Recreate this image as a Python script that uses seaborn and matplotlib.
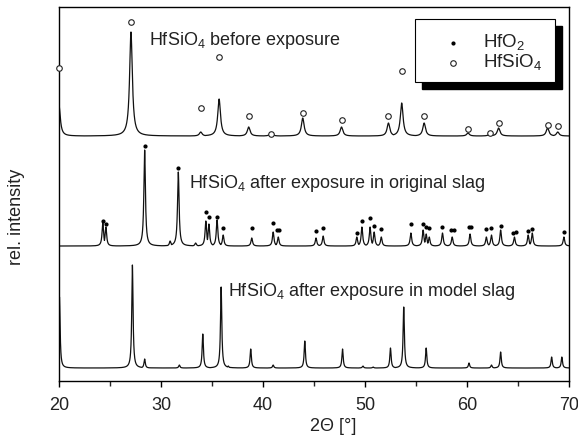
import numpy as np
import matplotlib
matplotlib.use("Agg")
import matplotlib.pyplot as plt
from matplotlib.patches import Rectangle
from matplotlib.ticker import MultipleLocator
import seaborn as sns

# peak positions (2theta, deg) and apex levels (arbitrary units)
before_base = 245
before_pos = [20.0, 27.06, 33.9, 35.7, 38.6, 40.8, 43.9, 47.7, 52.3, 53.6, 55.8, 60.1, 62.3, 63.1, 67.9, 68.9]
before_top = [276, 349, 249, 282, 254, 248, 263, 254, 258, 278, 258, 248, 248, 253, 253, 249]
before_mark = [313, 359, 273, 324, 265, 247, 268, 261, 265, 310, 265, 252, 248, 258, 256, 255]

orig_base = 135
orig_pos = [24.3, 24.6, 28.4, 30.9, 31.7, 33.4, 34.4, 34.7, 35.5, 36.1,
            38.9, 41.0, 41.5, 45.2, 45.9, 49.2, 49.7, 50.5, 50.9, 51.6,
            54.5, 55.7, 56.0, 56.3, 57.6, 58.55, 60.3, 61.9, 62.4, 63.3,
            64.65, 66.0, 66.4, 69.5]
orig_top = [158, 154, 231, 140, 209, 138, 160, 157, 161, 146,
            143, 149, 144, 143, 145, 144, 154, 154, 149, 144,
            148, 151, 147, 144, 148, 144, 147, 144, 146, 151,
            144, 146, 148, 144]
orig_mark_pos = [24.3, 24.6, 28.4, 31.7, 34.4, 34.7, 35.5, 36.1, 38.9, 41.0,
                 41.4, 41.6, 45.2, 45.9, 49.2, 49.7, 50.5, 50.9, 51.6, 54.5,
                 55.7, 56.0, 56.3, 57.6, 58.4, 58.7, 60.2, 60.4, 61.9, 62.4,
                 63.3, 64.5, 64.8, 66.0, 66.4, 69.5]
orig_mark = [160, 157, 235, 213, 169, 164, 164, 153, 153, 158,
             151, 151, 150, 153, 148, 160, 163, 155, 152, 157,
             157, 154, 153, 154, 151, 151, 154, 154, 152, 153,
             155, 148, 149, 150, 152, 149]

model_base = 13
model_pos = [20.05, 27.2, 28.4, 31.8, 34.1, 35.9, 36.6, 38.8, 41.0, 44.1, 47.8,
             49.8, 50.8, 52.5, 53.8, 56.0, 60.2, 62.4, 63.3, 68.3, 69.3]
model_top = [84, 116, 22, 16, 47, 94, 15, 32, 16, 40, 32,
             15, 14, 33, 74, 33, 18, 16, 29, 24, 24]

labels = ["HfSiO$_4$ before exposure",
          "HfSiO$_4$ after exposure in original slag",
          "HfSiO$_4$ after exposure in model slag"]

sns.set_style("ticks")
plt.rcParams["font.family"] = ["Liberation Sans", "DejaVu Sans"]
plt.rcParams["mathtext.fontset"] = "custom"
plt.rcParams["mathtext.rm"] = "Liberation Sans"
plt.rcParams["mathtext.default"] = "regular"

grid = np.linspace(20, 70, 5001)


def pattern(pos, top, base, width):
    y = np.full_like(grid, float(base))
    for p, t in zip(pos, top):
        y = np.maximum(y, base + (t - base) / (1 + ((grid - p) / width) ** 2))
    return y


fig = plt.figure(figsize=(5.78, 4.46), dpi=100)
ax = fig.add_axes([0.102, 0.1457, 0.8824, 0.8386])

for pos, top, base, w in [(before_pos, before_top, before_base, 0.16),
                          (orig_pos, orig_top, orig_base, 0.09),
                          (model_pos, model_top, model_base, 0.075)]:
    sns.lineplot(x=grid, y=pattern(pos, top, base, w), ax=ax,
                 color="#111111", linewidth=0.9, estimator=None)

ax.plot(before_pos, before_mark, "o", ms=4.0, mfc="white", mec="#222222", mew=0.8,
        clip_on=False, zorder=3)
ax.plot(orig_mark_pos, orig_mark, "o", ms=2.0, color="black", zorder=3)

ax.text(28.8, 336, labels[0], fontsize=13, va="baseline", color="#222222")
ax.text(32.75, 193, labels[1], fontsize=13, va="baseline", color="#222222")
ax.text(36.6, 85, labels[2], fontsize=13, va="baseline", color="#222222")

# legend box with solid drop shadow
ax.add_patch(Rectangle((0.712, 0.781), 0.2745, 0.169, transform=ax.transAxes,
                       facecolor="black", edgecolor="black", zorder=4))
ax.add_patch(Rectangle((0.698, 0.799), 0.2745, 0.169, transform=ax.transAxes,
                       facecolor="white", edgecolor="black", linewidth=0.8, zorder=5))
ax.plot([0.7725], [0.904], "o", ms=2.0, color="black", transform=ax.transAxes, zorder=6)
ax.plot([0.7725], [0.850], "o", ms=4.0, mfc="white", mec="#222222", mew=0.8,
        transform=ax.transAxes, zorder=6)
ax.text(0.831, 0.893, "HfO$_2$", fontsize=13.5, transform=ax.transAxes, zorder=6,
        color="#222222")
ax.text(0.831, 0.840, "HfSiO$_4$", fontsize=13.5, transform=ax.transAxes, zorder=6,
        color="#222222")

ax.set_xlim(20, 70)
ax.set_ylim(0, 374)
ax.set_yticks([])
ax.xaxis.set_major_locator(MultipleLocator(10))
ax.xaxis.set_minor_locator(MultipleLocator(5))
ax.tick_params(axis="x", which="major", direction="out", length=4.5, width=1, pad=7,
               labelsize=13, colors="black", labelcolor="#222222")
ax.tick_params(axis="x", which="minor", direction="out", length=3.5, width=1)
for s in ax.spines.values():
    s.set_linewidth(1.0)
    s.set_color("black")

ax.set_xlabel("2\u0398 [\u00b0]", fontsize=13, color="#222222")
ax.set_ylabel("rel. intensity", fontsize=13, color="#222222")
ax.xaxis.set_label_coords(0.537, -0.099)
ax.xaxis.label.set_va("top")
ax.yaxis.set_label_coords(-0.067, 0.44)

fig.savefig("out.png", dpi=100)
